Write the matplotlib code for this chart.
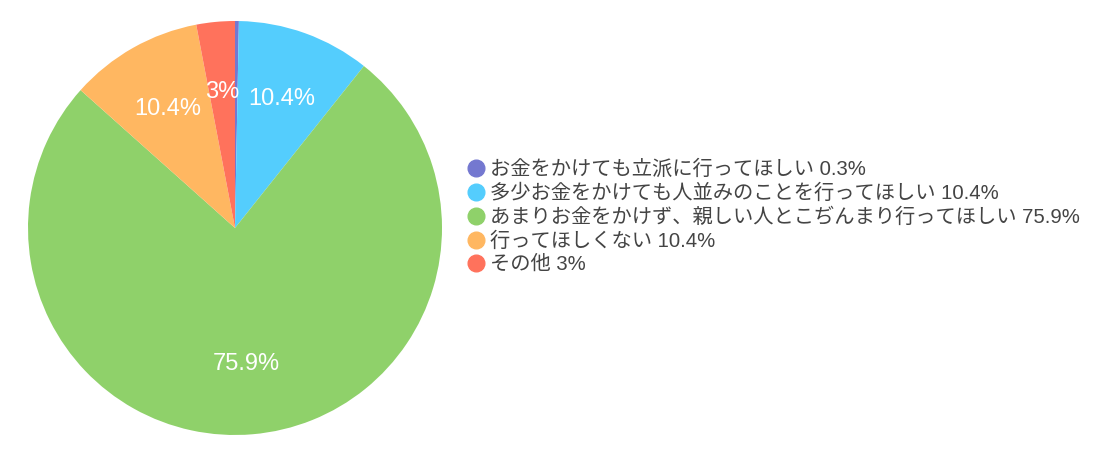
import numpy as np
import matplotlib.pyplot as plt
from matplotlib.lines import Line2D

labels = [
    "お金をかけても立派に行ってほしい",
    "多少お金をかけても人並みのことを行ってほしい",
    "あまりお金をかけず、親しい人とこぢんまり行ってほしい",
    "行ってほしくない",
    "その他",
]
values = [0.3, 10.4, 75.9, 10.4, 3]
pct_text = ["0.3%", "10.4%", "75.9%", "10.4%", "3%"]
colors = ["#7478d0", "#54cdfd", "#8fd16a", "#ffb761", "#ff725c"]

plt.rcParams["font.family"] = ["Liberation Sans", "Noto Sans CJK JP", "DejaVu Sans"]

fig = plt.figure(figsize=(11.03, 4.57), dpi=100)
ax = fig.add_axes([28 / 1103, 22 / 457, 414 / 1103, 414 / 457])

wedges, _ = ax.pie(values, colors=colors, startangle=90, counterclock=False,
                   radius=1.0, wedgeprops=dict(linewidth=0))

# slice labels (the tiny first slice has none)
for w, txt, v in zip(wedges, pct_text, values):
    if v < 1:
        continue
    mid = np.deg2rad((w.theta1 + w.theta2) / 2)
    ax.text(0.66 * np.cos(mid), 0.66 * np.sin(mid), txt, color="white",
            fontsize=17, ha="center", va="center")

ax.set_xlim(-1, 1)
ax.set_ylim(-1, 1)
ax.set_aspect("equal")
ax.axis("off")

handles = [Line2D([0], [0], marker="o", linestyle="", markersize=12,
                  markerfacecolor=c, markeredgecolor=c) for c in colors]
leg_labels = [f"{l} {p}" for l, p in zip(labels, pct_text)]
fig.legend(handles, leg_labels, loc="center left",
           bbox_to_anchor=(470 / 1103, 1 - 217 / 457), frameon=False,
           prop={"family": ["Liberation Sans", "Noto Sans CJK JP"], "size": 14.6},
           labelcolor="#444444", handlelength=0.6, handletextpad=0.4,
           labelspacing=0.22, borderaxespad=0, borderpad=0)

fig.savefig("out.png", dpi=100)
